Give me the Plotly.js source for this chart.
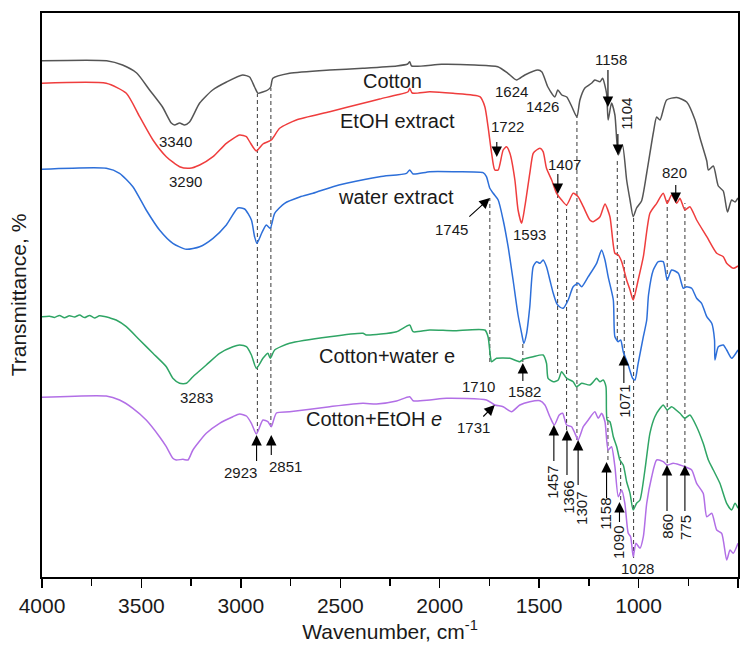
<!DOCTYPE html>
<html><head><meta charset="utf-8">
<script src="https://cdn.plot.ly/plotly-3.0.1.min.js"></script>
<style>html,body{margin:0;padding:0;background:#fff}#chart{width:755px;height:646px}</style>
</head><body><div id="chart"></div>
<script>
// ---- Spectra (wavenumber cm-1, transmittance in arbitrary offset units) ----
var cottonWn = [4000,3675,3595,3524,3459,3394,3350,3333,3308,3283,3258,3207,3142,3072,2991,2956,2931,2914,2890,2865,2850,2839,2755,2553,2387,2216,2161,2151,2141,1991,1824,1708,1657,1614,1572,1506,1486,1456,1421,1406,1386,1361,1335,1310,1295,1270,1235,1220,1194,1181,1161,1153,1136,1119,1102,1081,1060,1043,1027,1010,985,959,926,909,892,859,808,758,716,691,657,649,624,599,574,553,532,515,500];
var cottonT = [539.3,539.3,535,527,510,493,477,475,477,475,478,497,510,518,525,523,513,506.7,508,510,513,521.7,526.7,530,531.7,534,536,538.3,534,535.7,535,533.3,526.7,520,525,530,528,513,503,510,505,503,493,483,500,512,517,520,518.3,521.7,506.7,480,497,485,445,455,420,400,383.3,392,399,427,467,483,480,500,502.5,498,480,462,439,430,434,414,409,388,400,398,402];

var etohWn = [4000,3677,3576,3509,3442,3375,3308,3258,3207,3140,3073,3006,2972,2956,2922,2889,2847,2805,2721,2553,2386,2302,2217,2159,2151,2138,2050,1933,1798,1773,1757,1739,1723,1706,1681,1664,1647,1622,1606,1588,1572,1547,1530,1513,1496,1480,1463,1437,1412,1387,1362,1329,1304,1278,1245,1228,1194,1169,1144,1119,1102,1085,1060,1043,1027,1002,976,943,909,876,856,834,808,792,767,742,708,657,607,574,557,524,500];
var etohT = [516.7,516.7,506.7,483.3,460,443.3,433.3,431.7,435,443.3,456.7,465,463.3,458.3,449,456,460,471.7,480,488.3,496.7,501,505,508.3,511.7,507,508.3,506.7,503.3,493.3,473.3,446.7,430,430,450,453.3,446.7,420,390,376.7,393.3,426.7,446.7,450,451.7,448.3,431.7,420,406.7,400,395,406.7,403.3,393.3,380,378.3,383.3,396,383.3,346.7,345,338.3,320,310,300,320,343.3,386.7,396.7,406.7,396.7,405,396.7,401.7,390,393.3,380,363.3,346.7,343.3,336.7,331.7,334];

var waterWn = [4000,3677,3610,3543,3476,3409,3342,3274,3207,3140,3073,3015,2981,2947,2931,2919,2895,2872,2852,2830,2780,2704,2637,2537,2469,2302,2167,2151,2134,2050,1933,1782,1765,1748,1731,1706,1681,1656,1631,1606,1588,1577,1563,1547,1530,1513,1496,1480,1463,1446,1429,1412,1396,1379,1354,1329,1304,1286,1253,1211,1186,1169,1153,1127,1119,1102,1090,1077,1052,1030,1018,1002,976,959,950,926,901,876,856,834,800,775,758,733,708,683,657,632,618,616,599,574,557,532,500];
var waterT = [430.7,431.7,426.7,413.3,390,370,356.7,350.7,353.3,361.7,375,392,391,380,363.3,356.7,367,375,371.7,386.7,396.7,403,406.7,413.3,416.7,423.3,426.7,430,426,428.3,428.3,427.3,423.3,411.7,406.7,400,380,353.3,320,285,266.7,256.7,266.7,293.3,333.3,338.3,336.7,340,333.3,320,306.7,296.7,293,291.7,300,313.3,316.7,313.3,323.3,336.7,350,340,323.3,300,263.3,258.3,260,248.3,235,221.7,220,236.7,263.3,280,305,330,338.3,338.3,320,330,326.7,311.7,313.3,311.7,301.7,296.7,283.3,276.7,260,240,253.3,255,250,241.7,250];

var cwWn = [4000,3962,3937,3912,3887,3862,3836,3811,3786,3761,3736,3711,3685,3660,3627,3576,3509,3442,3375,3342,3308,3274,3241,3174,3107,3040,3006,2972,2947,2922,2889,2864,2852,2830,2755,2553,2386,2369,2217,2151,2134,2050,1933,1773,1757,1745,1739,1714,1647,1597,1580,1530,1480,1463,1455,1429,1404,1387,1362,1329,1312,1286,1245,1220,1211,1194,1178,1164,1158,1144,1127,1110,1094,1077,1060,1043,1027,1010,993,968,943,918,892,876,856,834,792,767,742,708,675,649,624,591,557,532,515,500];
var cwT = [283.3,283.8,282.6,284.6,282.2,284.3,283,285,282.4,284.6,282,284.2,283.5,282.2,280,273.3,260,246.7,233.3,221.7,216.7,216.7,223.3,235,246.7,253.3,255,253.3,245,231.7,241.7,246.7,241.7,250,256.7,263.3,266.7,265,268.3,275,268.3,270,269.3,270,263.3,243.3,238.3,241.7,241.7,238.3,240.7,243.3,245,236.7,221.7,218.3,220,228.3,221.7,218.3,213.3,216.7,215,220,221.7,218.3,220,213.3,180,178.3,163.3,153.3,140,135,118.3,106.7,90,96.7,100,130,166.7,183.3,191.7,195,190,193.3,186.7,181.7,185,173.3,156.7,140,130,116.7,96.7,90,96.7,91.7];

var ceWn = [4000,3677,3610,3543,3476,3409,3375,3342,3325,3291,3266,3241,3174,3107,3040,3006,2972,2947,2922,2889,2864,2847,2821,2755,2553,2386,2318,2217,2151,2134,2050,1966,1765,1723,1681,1639,1597,1547,1496,1471,1446,1424,1399,1382,1362,1337,1320,1304,1278,1253,1220,1203,1186,1169,1153,1136,1119,1102,1085,1069,1052,1040,1027,1013,993,976,959,934,909,876,856,826,792,767,733,708,675,657,632,607,582,557,540,524,500];
var ceT = [202.7,204,200,191.7,180,163.3,153.3,141.7,140,140.7,140,150,166.7,176.7,183.3,186,184,176.7,166,180,178.3,173.3,187,188.3,193.3,196.7,196,199,203.3,199.3,200,201.7,200,195,193.3,188.3,195,198.3,199.3,195,183.3,175,185,186.7,175,173.3,166.7,160,173.3,180,188.3,181.7,186.7,178.3,150,153.3,133.3,103.3,110,96.7,66.7,63.3,43.3,56.7,51.7,63.3,96.7,123.3,140,138.3,135,136.7,135,133.3,130,116.7,106.7,83.3,86.7,70,66.7,40,50,46.7,56.7];

// ---- Series names and label positions ----
var seriesNames = ["Cotton","EtOH extract","water extract","Cotton+water e","Cotton+EtOH <i>e</i>"];
var seriesColors = ["#555555","#ef3d3d","#2d6fd9","#2fa565","#b26fe6"];
var seriesLabelWn = [2236,2213,2218,2264,2332];
var seriesLabelT = [519,479,403,244,181];

// ---- Peak labels ----
var peakText = ["3340","3290","3283","2923","2851","1624","1426","1722","1745","1593","1407","1158","1104","820","1710","1582","1731","1071","1457","1366","1307","1158","1090","1028","860","775"];
var peakWn =   [3328,3278,3223,3004,2774,1637,1481,1657,1939,1547,1371,1139,1064,817,1806,1572,1831,1074,1436,1356,1290,1170,1104,1003,858,767];
var peakT =    [459,419,203,128,134,509,494,474,371,366,436,541,486,428,214,209,173,199,118,103,92,86,58,32,74,73];
var peakAngle =[0,0,0,0,0,0,0,0,0,0,0,0,-90,0,0,0,0,-90,-90,-90,-90,-90,-90,0,-90,-90];

// ---- Arrows (tip position) ----
var arrowWn = [2921,2847,1748,1713,1406,1154,1104,813,1582,1723,1074,1426,1360,1304,1161,1096,857,767];
var arrowT =  [165,165,402,443,406,493,445,397,237,195,245,175,170,160,138,98,135,135];
var arrowAx = [0,0,-22,0,0,0,0,0,0,-13,0,0,0,0,0,0,0,0];
var arrowAy = [28,22,20,-17,-22,-39,-23,-20,20,13,30,38,47,47,38,22,48,48];

// ---- Dashed guide lines ----
var dashWn =  [2917,2849,1748,1582,1407,1362,1310,1154,1107,1090,1072,1025,856,767];
var dashTop = [506,512,402,257,407,395,483,183,440,143,343,383,400,397];
var dashBot = [167,173,238,238,227,170,160,140,260,100,245,42,137,137];

var FONT = "Liberation Sans, Arial, sans-serif";
var seriesX = [cottonWn, etohWn, waterWn, cwWn, ceWn];
var seriesY = [cottonT, etohT, waterT, cwT, ceT];
var traces = seriesX.map(function(xs, i){
  return {x: xs, y: seriesY[i], type: "scatter", mode: "lines",
          line: {color: seriesColors[i], width: 1.5, shape: "spline", smoothing: 0.6},
          showlegend: false, hoverinfo: "skip"};
});

var annotations = [];
seriesNames.forEach(function(t, i){
  annotations.push({x: seriesLabelWn[i], y: seriesLabelT[i], xref: "x", yref: "y", text: t,
    showarrow: false, font: {family: FONT, size: 20, color: "#1a1a1a"}});
});
peakText.forEach(function(t, i){
  annotations.push({x: peakWn[i], y: peakT[i], xref: "x", yref: "y", text: t, textangle: peakAngle[i],
    showarrow: false, font: {family: FONT, size: 15, color: "#1a1a1a"}});
});
arrowWn.forEach(function(w, i){
  annotations.push({x: w, y: arrowT[i], xref: "x", yref: "y", text: " ", showarrow: true,
    ax: arrowAx[i], ay: arrowAy[i], arrowhead: 2, arrowsize: 1.9, arrowwidth: 1.1,
    arrowcolor: "#000", standoff: 0, font: {size: 1}});
});

var shapes = dashWn.map(function(w, i){
  return {type: "line", xref: "x", yref: "y", x0: w, x1: w, y0: dashBot[i], y1: dashTop[i],
          line: {color: "#3a3a3a", width: 1, dash: "4px,3px"}, layer: "below"};
});

var layout = {
  width: 755, height: 646,
  margin: {l: 42, r: 17, t: 13, b: 69},
  paper_bgcolor: "#fff", plot_bgcolor: "#fff",
  font: {family: FONT, color: "#1a1a1a"},
  xaxis: {range: [4000, 500], tickmode: "linear", tick0: 500, dtick: 500,
    ticks: "outside", ticklen: 9, tickwidth: 1.5, tickcolor: "#000",
    minor: {dtick: 250, ticks: "outside", ticklen: 7, tickwidth: 1.5, tickcolor: "#000"},
    showgrid: false, zeroline: false, showline: true, linecolor: "#000", linewidth: 2, mirror: true,
    tickfont: {family: FONT, size: 21, color: "#1a1a1a"},
    title: {text: "Wavenumber, cm<sup>-1</sup>", font: {family: FONT, size: 21, color: "#1a1a1a"}, standoff: 6}},
  yaxis: {range: [23, 587], showticklabels: false, ticks: "", showgrid: false, zeroline: false,
    showline: true, linecolor: "#000", linewidth: 2, mirror: true,
    title: {text: "Transmittance, %", font: {family: FONT, size: 21, color: "#1a1a1a"}, standoff: 8}},
  annotations: annotations,
  shapes: shapes
};
Plotly.newPlot("chart", traces, layout, {displayModeBar: false, staticPlot: true});
</script></body></html>
